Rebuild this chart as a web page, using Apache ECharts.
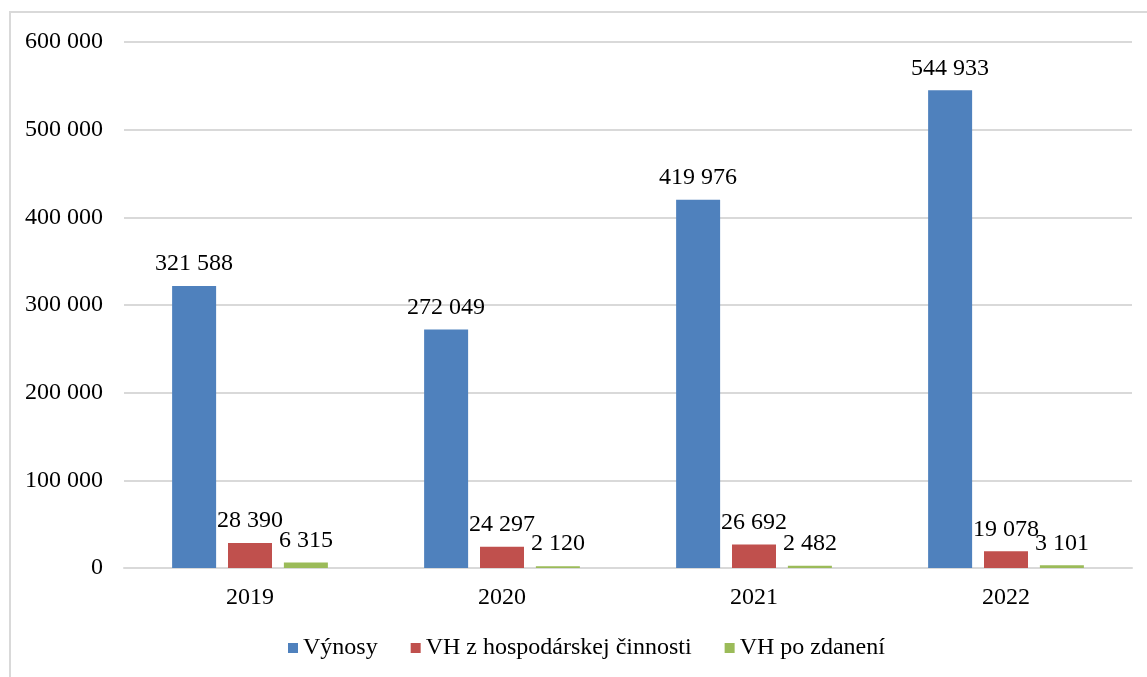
<!DOCTYPE html>
<html>
<head>
<meta charset="utf-8">
<script src="https://cdn.jsdelivr.net/npm/echarts@6/dist/echarts.min.js"></script>
<style>
html,body{margin:0;padding:0;background:#fff;}
#main{width:1147px;height:677px;}
</style>
</head>
<body>
<div id="main"></div>
<script>
// kategórie a hodnoty
var roky = ['2019', '2020', '2021', '2022'];
var vynosy = [321588, 272049, 419976, 544933];
var vhHosp = [28390, 24297, 26692, 19078];
var vhPoZdaneni = [6315, 2120, 2482, 3101];
var nazvy = ['Výnosy', 'VH z hospodárskej činnosti', 'VH po zdanení'];
var farby = ['#4f81bd', '#c0504d', '#9bbb59'];

// medzera ako oddelovac tisicov
function fmt(v){
    return String(v).replace(/\B(?=(\d{3})+(?!\d))/g, ' ');
}

var font = '"Liberation Serif", "Times New Roman", serif';

function serie(i, data){
    return {
        name: nazvy[i],
        type: 'bar',
        data: data,
        barWidth: 44,
        barGap: '27%',
        itemStyle: {color: farby[i]},
        label: {
            show: true,
            position: 'top',
            distance: 10,
            color: '#000',
            fontFamily: font,
            fontSize: 24,
            formatter: function(p){ return fmt(p.value); }
        }
    };
}

var myChart = echarts.init(document.getElementById('main'));
var option = {
    animation: false,
    textStyle: {fontFamily: font},
    graphic: [{
        type: 'rect',
        shape: {x: 10, y: 12, width: 1150, height: 700},
        style: {fill: 'none', stroke: '#d9d9d9', lineWidth: 2},
        silent: true
    }],
    legend: {
        data: nazvy,
        bottom: 12,
        left: 283,
        icon: 'rect',
        itemWidth: 10,
        itemHeight: 10,
        itemGap: 33,
        textStyle: {fontFamily: font, fontSize: 24, color: '#000'}
    },
    grid: {
        left: 124,
        right: 15,
        top: 42,
        bottom: 109
    },
    xAxis: {
        type: 'category',
        data: roky,
        axisTick: {show: false},
        axisLine: {lineStyle: {color: '#d9d9d9', width: 2}},
        axisLabel: {color: '#000', fontFamily: font, fontSize: 24, margin: 18}
    },
    yAxis: {
        type: 'value',
        min: 0,
        max: 600000,
        interval: 100000,
        axisLine: {show: false},
        axisTick: {show: false},
        splitLine: {lineStyle: {color: '#d9d9d9', width: 2}},
        axisLabel: {
            color: '#000',
            fontFamily: font,
            fontSize: 24,
            margin: 21,
            formatter: function(v){ return fmt(v); }
        }
    },
    series: [
        serie(0, vynosy),
        serie(1, vhHosp),
        serie(2, vhPoZdaneni)
    ]
};
myChart.setOption(option);
window.onresize = myChart.resize;
</script>
</body>
</html>
